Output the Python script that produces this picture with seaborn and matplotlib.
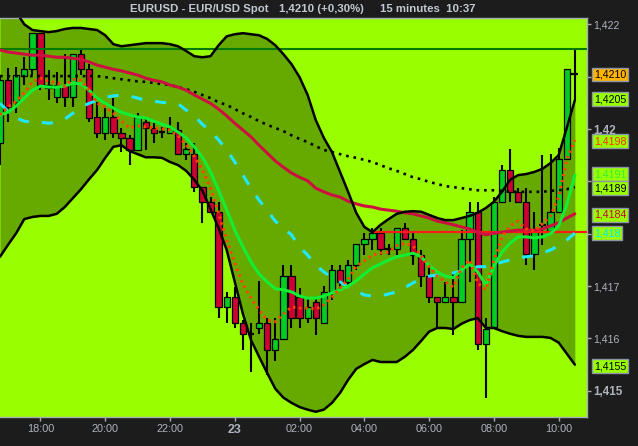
import matplotlib
matplotlib.use('Agg')
import matplotlib.pyplot as plt
import matplotlib.transforms as mtransforms
import pandas as pd
import seaborn as sns

# Bars: index 0 = 18:00, one bar per 15 minutes
bars = list(range(-5, 67))

opens = [1.41973, 1.42093, 1.42051, 1.42101, 1.42114, 1.42183, 1.42084, 1.42061, 1.42084, 1.42061,
         1.42143, 1.42114, 1.42023, 1.41992, 1.42023, 1.41992, 1.41983, 1.41960, 1.42013, 1.42002,
         1.41994, 1.41992, 1.41998, 1.41952, 1.41952, 1.41889, 1.41860, 1.41841, 1.41660, 1.41679,
         1.41630, 1.41609, 1.41620, 1.41630, 1.41578, 1.41599, 1.41719, 1.41679, 1.41639, 1.41670,
         1.41630, 1.41689, 1.41731, 1.41708, 1.41740, 1.41780, 1.41790, 1.41801, 1.41771, 1.41771,
         1.41811, 1.41790, 1.41759, 1.41719, 1.41679, 1.41670, 1.41679, 1.41670, 1.41790, 1.41841,
         1.41589, 1.41622, 1.41860, 1.41921, 1.41880, 1.41860, 1.41761, 1.41817, 1.41805, 1.41841,
         1.41942, 1.42105]
highs = [1.42103, 1.42116, 1.42118, 1.42137, 1.42183, 1.42183, 1.42112, 1.42108, 1.42143, 1.42143,
         1.42150, 1.42124, 1.42051, 1.42040, 1.42059, 1.42002, 1.41988, 1.42030, 1.42021, 1.42011,
         1.42003, 1.42023, 1.42013, 1.41973, 1.41973, 1.41889, 1.41870, 1.41860, 1.41689, 1.41698,
         1.41635, 1.41630, 1.41710, 1.41639, 1.41639, 1.41740, 1.41740, 1.41696, 1.41679, 1.41679,
         1.41700, 1.41740, 1.41740, 1.41750, 1.41780, 1.41801, 1.41811, 1.41811, 1.41780, 1.41811,
         1.41820, 1.41801, 1.41769, 1.41736, 1.41679, 1.41708, 1.41725, 1.41807, 1.41860, 1.41860,
         1.41639, 1.41870, 1.41931, 1.41962, 1.41887, 1.41887, 1.41841, 1.41950, 1.41952, 1.41963,
         1.42114, 1.42150]
lows = [1.41931, 1.42013, 1.42030, 1.42084, 1.42103, 1.42074, 1.42055, 1.42049, 1.42042, 1.42042,
        1.42103, 1.42013, 1.41983, 1.41979, 1.41983, 1.41956, 1.41931, 1.41960, 1.41960, 1.41973,
        1.41983, 1.41992, 1.41952, 1.41941, 1.41880, 1.41820, 1.41841, 1.41639, 1.41630, 1.41620,
        1.41578, 1.41536, 1.41609, 1.41530, 1.41557, 1.41599, 1.41620, 1.41620, 1.41630, 1.41607,
        1.41630, 1.41673, 1.41693, 1.41698, 1.41731, 1.41759, 1.41769, 1.41759, 1.41759, 1.41759,
        1.41790, 1.41740, 1.41698, 1.41668, 1.41622, 1.41670, 1.41607, 1.41670, 1.41708, 1.41578,
        1.41486, 1.41622, 1.41860, 1.41860, 1.41860, 1.41740, 1.41731, 1.41779, 1.41805, 1.41841,
        1.41942, 1.42055]
closes = [1.42093, 1.42042, 1.42103, 1.42114, 1.42183, 1.42084, 1.42078, 1.42084, 1.42061, 1.42143,
          1.42114, 1.42021, 1.41992, 1.42023, 1.41992, 1.41983, 1.41960, 1.42023, 1.42002, 1.41992,
          1.41994, 1.42002, 1.41952, 1.41962, 1.41889, 1.41860, 1.41841, 1.41660, 1.41679, 1.41630,
          1.41609, 1.41609, 1.41630, 1.41578, 1.41599, 1.41719, 1.41639, 1.41639, 1.41660, 1.41639,
          1.41689, 1.41731, 1.41708, 1.41740, 1.41780, 1.41790, 1.41801, 1.41771, 1.41771, 1.41811,
          1.41790, 1.41759, 1.41719, 1.41679, 1.41670, 1.41679, 1.41670, 1.41790, 1.41841, 1.41589,
          1.41618, 1.41860, 1.41921, 1.41880, 1.41860, 1.41761, 1.41805, 1.41817, 1.41841, 1.41942,
          1.42114, 1.42105]

# Bollinger bands
bb_upper = [1.42261, 1.42242, 1.42223, 1.42200, 1.42189, 1.42187, 1.42185, 1.42187, 1.42191, 1.42193,
            1.42193, 1.42191, 1.42189, 1.42179, 1.42162, 1.42158, 1.42160, 1.42162, 1.42164, 1.42164,
            1.42164, 1.42162, 1.42158, 1.42149, 1.42139, 1.42137, 1.42139, 1.42160, 1.42177, 1.42181,
            1.42183, 1.42181, 1.42179, 1.42172, 1.42160, 1.42143, 1.42124, 1.42099, 1.42065, 1.42017,
            1.41983, 1.41956, 1.41918, 1.41880, 1.41840, 1.41813, 1.41803, 1.41817, 1.41828, 1.41838,
            1.41842, 1.41843, 1.41842, 1.41836, 1.41830, 1.41826, 1.41826, 1.41830, 1.41834, 1.41840,
            1.41849, 1.41861, 1.41880, 1.41903, 1.41912, 1.41914, 1.41918, 1.41924, 1.41935, 1.41950,
            1.42002, 1.42055]
bb_lower = [1.41756, 1.41779, 1.41801, 1.41828, 1.41832, 1.41834, 1.41834, 1.41838, 1.41851, 1.41868,
            1.41885, 1.41904, 1.41922, 1.41945, 1.41966, 1.41969, 1.41958, 1.41952, 1.41946, 1.41946,
            1.41945, 1.41937, 1.41931, 1.41920, 1.41903, 1.41882, 1.41847, 1.41811, 1.41769, 1.41708,
            1.41647, 1.41597, 1.41565, 1.41534, 1.41504, 1.41487, 1.41477, 1.41469, 1.41464, 1.41460,
            1.41464, 1.41477, 1.41496, 1.41521, 1.41542, 1.41551, 1.41559, 1.41555, 1.41555, 1.41555,
            1.41565, 1.41578, 1.41595, 1.41613, 1.41620, 1.41620, 1.41618, 1.41628, 1.41635, 1.41639,
            1.41620, 1.41620, 1.41614, 1.41609, 1.41605, 1.41603, 1.41603, 1.41603, 1.41601, 1.41592,
            1.41571, 1.41550]

# Moving averages
ma_crimson = [1.42151, 1.42147, 1.42145, 1.42143, 1.42141, 1.42141, 1.42139, 1.42137, 1.42137, 1.42135,
              1.42133, 1.42128, 1.42122, 1.42118, 1.42114, 1.42111, 1.42107, 1.42103, 1.42097, 1.42093,
              1.42090, 1.42084, 1.42080, 1.42074, 1.42065, 1.42057, 1.42049, 1.42038, 1.42025, 1.42011,
              1.41998, 1.41985, 1.41969, 1.41954, 1.41939, 1.41927, 1.41916, 1.41908, 1.41901, 1.41887,
              1.41880, 1.41874, 1.41870, 1.41862, 1.41857, 1.41853, 1.41851, 1.41847, 1.41845, 1.41843,
              1.41840, 1.41838, 1.41834, 1.41830, 1.41824, 1.41821, 1.41817, 1.41813, 1.41809, 1.41803,
              1.41798, 1.41801, 1.41803, 1.41805, 1.41807, 1.41807, 1.41807, 1.41809, 1.41815, 1.41821,
              1.41830, 1.41838]
ma_black = [1.42101, 1.42101, 1.42101, 1.42101, 1.42101, 1.42101, 1.42101, 1.42101, 1.42101, 1.42101,
            1.42101, 1.42101, 1.42101, 1.42099, 1.42097, 1.42095, 1.42093, 1.42091, 1.42090, 1.42088,
            1.42086, 1.42084, 1.42080, 1.42076, 1.42071, 1.42065, 1.42059, 1.42051, 1.42046, 1.42038,
            1.42030, 1.42023, 1.42015, 1.42008, 1.42002, 1.41996, 1.41988, 1.41981, 1.41975, 1.41967,
            1.41960, 1.41956, 1.41952, 1.41948, 1.41945, 1.41941, 1.41937, 1.41931, 1.41925, 1.41920,
            1.41914, 1.41908, 1.41904, 1.41899, 1.41895, 1.41891, 1.41889, 1.41887, 1.41885, 1.41883,
            1.41883, 1.41883, 1.41882, 1.41880, 1.41880, 1.41880, 1.41880, 1.41880, 1.41882, 1.41883,
            1.41885, 1.41889]
ma_green = [1.42027, 1.42032, 1.42044, 1.42059, 1.42074, 1.42082, 1.42080, 1.42080, 1.42082, 1.42088,
            1.42086, 1.42074, 1.42059, 1.42049, 1.42040, 1.42032, 1.42027, 1.42023, 1.42021, 1.42015,
            1.42009, 1.42004, 1.41994, 1.41983, 1.41966, 1.41946, 1.41918, 1.41883, 1.41845, 1.41807,
            1.41775, 1.41746, 1.41723, 1.41708, 1.41695, 1.41693, 1.41689, 1.41681, 1.41677, 1.41677,
            1.41681, 1.41687, 1.41693, 1.41700, 1.41710, 1.41723, 1.41735, 1.41742, 1.41750, 1.41756,
            1.41759, 1.41763, 1.41756, 1.41740, 1.41727, 1.41719, 1.41716, 1.41731, 1.41742, 1.41727,
            1.41702, 1.41738, 1.41765, 1.41782, 1.41794, 1.41794, 1.41792, 1.41794, 1.41800, 1.41815,
            1.41855, 1.41912]
ma_cyan = [1.42049, 1.42034, 1.42021, 1.42015, 1.42013, 1.42013, 1.42011, 1.42013, 1.42019, 1.42030,
           1.42042, 1.42049, 1.42055, 1.42061, 1.42063, 1.42065, 1.42063, 1.42059, 1.42055, 1.42053,
           1.42051, 1.42049, 1.42048, 1.42036, 1.42025, 1.42009, 1.41996, 1.41979, 1.41960, 1.41937,
           1.41912, 1.41887, 1.41864, 1.41845, 1.41824, 1.41811, 1.41798, 1.41775, 1.41759, 1.41740,
           1.41727, 1.41716, 1.41708, 1.41698, 1.41691, 1.41683, 1.41681, 1.41681, 1.41685, 1.41689,
           1.41697, 1.41706, 1.41714, 1.41719, 1.41721, 1.41725, 1.41725, 1.41729, 1.41733, 1.41737,
           1.41737, 1.41740, 1.41746, 1.41750, 1.41754, 1.41756, 1.41758, 1.41763, 1.41769, 1.41777,
           1.41788, 1.41801]
ma_orange = [1.42027, 1.42042, 1.42053, 1.42069, 1.42090, 1.42097, 1.42091, 1.42088, 1.42082, 1.42095,
             1.42093, 1.42074, 1.42049, 1.42042, 1.42030, 1.42015, 1.42002, 1.42006, 1.42004, 1.42002,
             1.42000, 1.41998, 1.41987, 1.41969, 1.41948, 1.41922, 1.41887, 1.41840, 1.41788, 1.41744,
             1.41704, 1.41677, 1.41655, 1.41635, 1.41632, 1.41647, 1.41660, 1.41658, 1.41658, 1.41656,
             1.41664, 1.41679, 1.41696, 1.41714, 1.41738, 1.41748, 1.41759, 1.41763, 1.41765, 1.41777,
             1.41782, 1.41777, 1.41758, 1.41738, 1.41719, 1.41708, 1.41698, 1.41735, 1.41750, 1.41706,
             1.41693, 1.41750, 1.41794, 1.41815, 1.41824, 1.41809, 1.41805, 1.41819, 1.41834, 1.41870,
             1.41941, 1.41979]

day_high = 1.42152
red_level = 1.41803
red_level_from = 40.8

tick_bars = [0, 8, 16, 24, 32, 40, 48, 56, 64]
tick_labels = ['18:00', '20:00', '22:00', '23', '02:00', '04:00', '06:00', '08:00', '10:00']

price_ticks = [1.415, 1.416, 1.417, 1.418, 1.419, 1.42, 1.421, 1.422]
price_labels = ['1,415', '1,416', '1,417', '', '', '1,42', '', '1,422']

# last values shown in boxes on the price scale: text, price, box colour, text colour
box_labels = ['1,4210', '1,4205', '1,4198', '1,4191', '1,4189', '1,4184', '1,418', '1,4155']
box_prices = [1.42104, 1.42057, 1.41977, 1.41914, 1.41887, 1.41836, 1.41801, 1.41547]
box_bg = ['#ffb400', '#99ff00', '#99ff00', '#99ff00', '#99ff00', '#99ff00', '#99ff00', '#99ff00']
box_fg = ['black', 'black', '#ff2a00', '#33ee33', 'black', '#cc0040', '#00e8ff', 'black']

lime = '#99ff00'
band_fill = '#66aa00'
dark = '#1c1c1c'
grey = '#a6acb6'

sns.set_style('dark')
plt.rcParams['font.family'] = ['Liberation Sans', 'DejaVu Sans']

fig = plt.figure(figsize=(6.38, 4.46), dpi=100, facecolor=dark)
ax = fig.add_axes([0, 29 / 446, 587 / 638, 399 / 446])
ax.set_facecolor(lime)

# band area
ax.fill_between(bars, bb_lower, bb_upper, color=band_fill, lw=0, zorder=1)

# candles
for x, o, h, l, c in zip(bars, opens, highs, lows, closes):
    ax.vlines(x, l, h, color='black', lw=1.5, zorder=2)
    if o == c:
        ax.hlines(o, x - 0.42, x + 0.42, color='black', lw=1.6, zorder=3)
    else:
        fill = '#00cc22' if c > o else '#cc0033'
        ax.bar(x, abs(c - o), bottom=min(o, c), width=0.78, color=fill,
               edgecolor='black', linewidth=0.9, zorder=3)

# horizontal levels
ax.axhline(day_high, color='#007a00', lw=1.5, zorder=4)
ax.hlines(red_level, red_level_from, 67.5, color='#ff1a1a', lw=1.6, zorder=4)

df = pd.DataFrame({'bar': bars, 'upper': bb_upper, 'lower': bb_lower, 'crimson': ma_crimson,
                   'black': ma_black, 'green': ma_green, 'cyan': ma_cyan, 'orange': ma_orange})

sns.lineplot(data=df, x='bar', y='black', ax=ax, color='black', lw=1.9,
             linestyle=(0, (1, 1.85)), zorder=5)
sns.lineplot(data=df, x='bar', y='crimson', ax=ax, color='#cc1040', lw=2.2, zorder=5)
sns.lineplot(data=df, x='bar', y='upper', ax=ax, color='black', lw=1.8, zorder=6)
sns.lineplot(data=df, x='bar', y='lower', ax=ax, color='black', lw=1.8, zorder=6)
sns.lineplot(data=df, x='bar', y='cyan', ax=ax, color='#22e8ff', lw=2.2,
             linestyle=(0, (3.6, 4.3)), zorder=6)
sns.lineplot(data=df, x='bar', y='green', ax=ax, color='#11ee33', lw=2.2, zorder=7)
sns.lineplot(data=df, x='bar', y='orange', ax=ax, color='#ff4400', lw=2.2,
             linestyle=(0, (0.8, 1.2)), zorder=7)

ax.set_xlim(-5.0, 67.5)
ax.set_ylim(1.41450, 1.42212)
ax.set_xlabel('')
ax.set_ylabel('')
ax.grid(False)

for side in ['top', 'right', 'bottom']:
    ax.spines[side].set_visible(True)
    ax.spines[side].set_color(grey)
    ax.spines[side].set_linewidth(1)
ax.spines['left'].set_visible(False)

ax.set_xticks(tick_bars)
ax.set_xticklabels(tick_labels)
ax.tick_params(axis='x', direction='out', length=3, width=1, color=grey,
               labelcolor='#aeb4be', labelsize=7.8, pad=2, bottom=True)
for lab in ax.get_xticklabels():
    if lab.get_text() == '23':
        lab.set_fontweight('bold')
        lab.set_fontsize(9)

ax.yaxis.tick_right()
ax.set_yticks(price_ticks)
ax.set_yticklabels(price_labels)
ax.tick_params(axis='y', direction='out', length=3, width=1, color=grey,
               labelcolor='#aeb4be', labelsize=7.6, pad=1.5, right=True, left=False)
for lab in ax.get_yticklabels():
    if lab.get_text() in ('1,42', '1,415'):
        lab.set_fontweight('bold')
        lab.set_fontsize(8.4)

trans = mtransforms.blended_transform_factory(ax.transAxes, ax.transData)
for txt, p, bg, fg in zip(box_labels, box_prices, box_bg, box_fg):
    ax.text(1.012, p, txt, transform=trans, ha='left', va='center', fontsize=7.7, color=fg,
            bbox=dict(boxstyle='square,pad=0.18', fc=bg, ec='#8c96a8', lw=1), clip_on=False, zorder=10)

# title bar
title_y = 1 - 9.5 / 446
fig.text(130 / 638, title_y, 'EURUSD - EUR/USD Spot', ha='left', va='center',
         fontsize=8.2, fontweight='bold', color='#c2c8d2')
fig.text(279 / 638, title_y, '1,4210 (+0,30%)', ha='left', va='center',
         fontsize=8.2, fontweight='bold', color='#c2c8d2')
fig.text(380 / 638, title_y, '15 minutes  10:37', ha='left', va='center',
         fontsize=8.2, fontweight='bold', color='#c2c8d2')

fig.savefig('out.png', dpi=100, facecolor=dark)
